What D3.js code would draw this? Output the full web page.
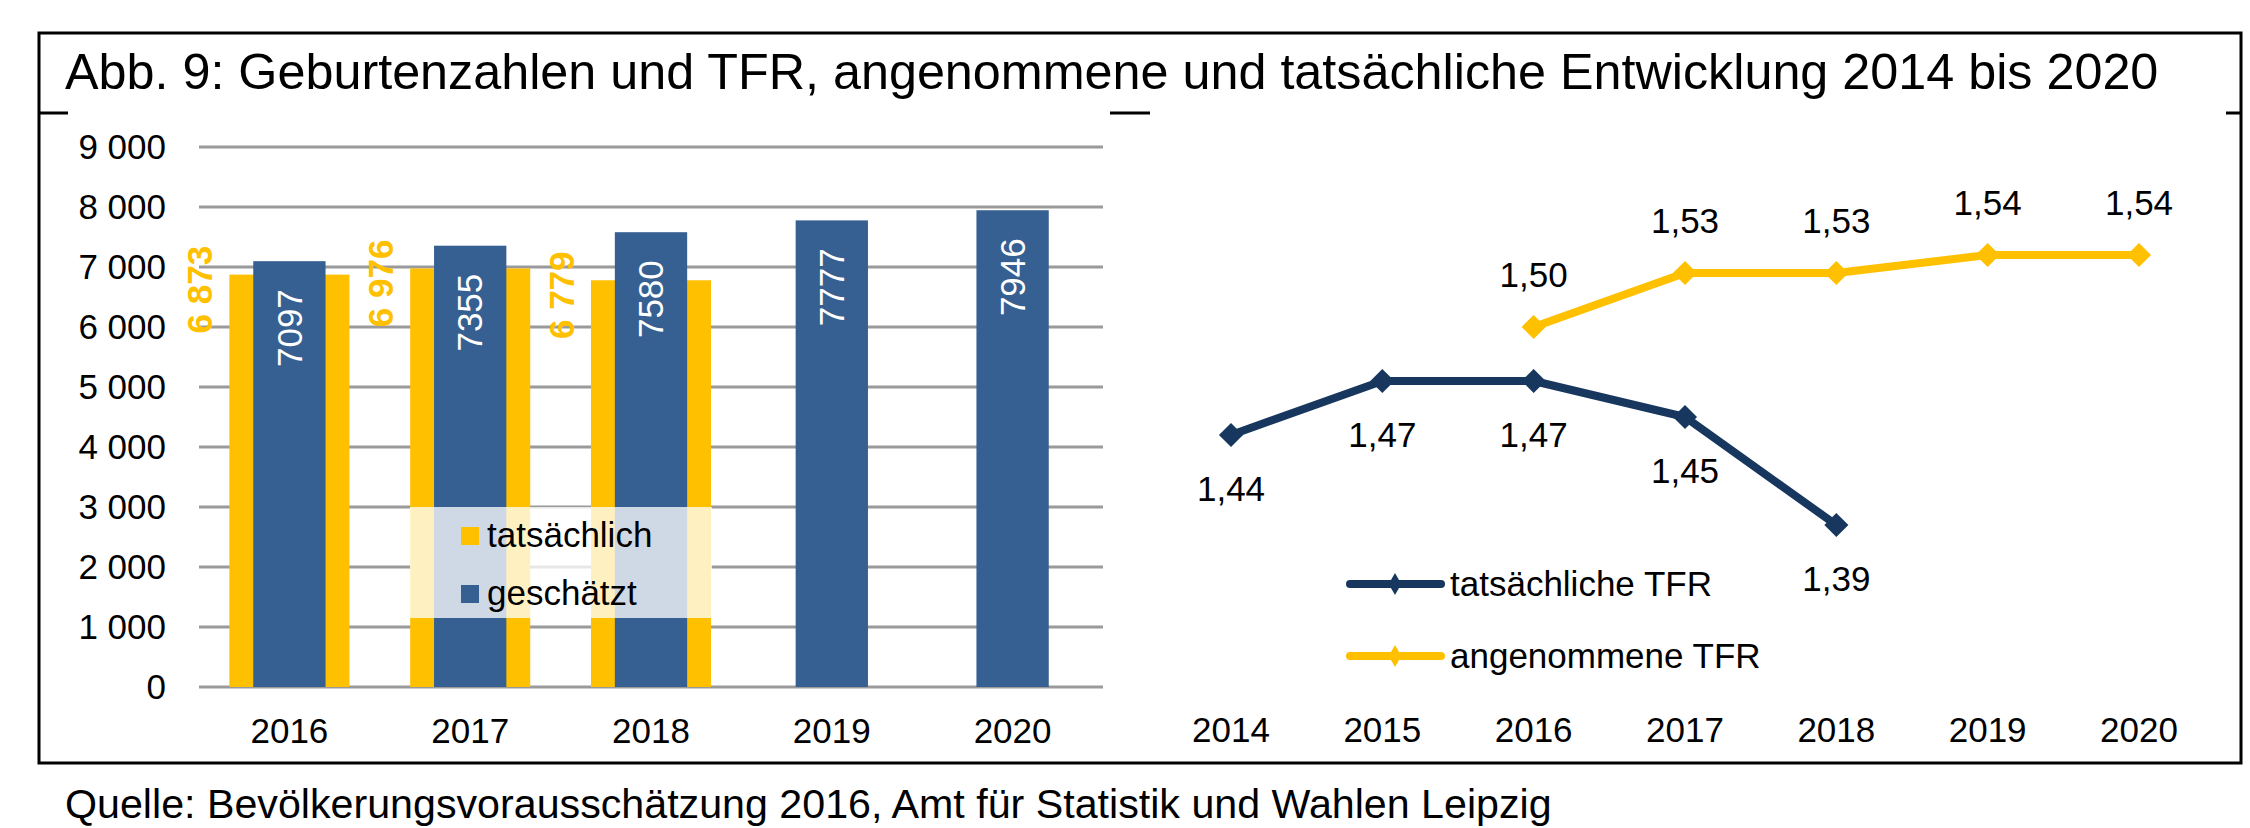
<!DOCTYPE html>
<html>
<head>
<meta charset="utf-8">
<script src="https://cdn.jsdelivr.net/npm/d3@7"></script>
<style>
  body { margin: 0; background: #fff; }
  svg { display: block; font-family: "Liberation Sans", Arial, sans-serif; }
</style>
</head>
<body>
<svg id="svg" width="2250" height="828"></svg>
<script>
// --- DATA ---
const barYears = ["2016", "2017", "2018", "2019", "2020"];
const actualBirths = [6873, 6976, 6779];            // tatsächlich (2016-2018)
const estimatedBirths = [7097, 7355, 7580, 7777, 7946]; // geschätzt
const birthTicks = [0, 1000, 2000, 3000, 4000, 5000, 6000, 7000, 8000, 9000];

const tfrYears = ["2014", "2015", "2016", "2017", "2018", "2019", "2020"];
const actualTfr = [1.44, 1.47, 1.47, 1.45, 1.39];       // 2014-2018
const assumedTfr = [null, null, 1.50, 1.53, 1.53, 1.54, 1.54];

const TITLE = "Abb. 9: Geburtenzahlen und TFR, angenommene und tatsächliche Entwicklung 2014 bis 2020";
const SOURCE = "Quelle: Bevölkerungsvorausschätzung 2016, Amt für Statistik und Wahlen Leipzig";

// --- CONFIGURATION ---
const YELLOW = "#FFC000";
const BLUE = "#376092";
const NAVY = "#17375E";
const GRID = "#9a9a9a";
const FS = 35;
const PLOT_TOP = 147, PLOT_BOTTOM = 687;

const svg = d3.select("#svg");
const de = d3.formatLocale({ decimal: ",", thousands: " ", grouping: [3], currency: ["", " €"] });
const fmtInt = de.format(",d");
const fmtTfr = de.format(".2f");

// --- FRAME + TITLE ---
svg.append("rect")
  .attr("x", 39).attr("y", 33).attr("width", 2202).attr("height", 730)
  .attr("fill", "none").attr("stroke", "#000").attr("stroke-width", 3);

[[39, 68], [1110, 1150], [2226, 2241]].forEach(([a, b]) => {
  svg.append("line").attr("x1", a).attr("x2", b).attr("y1", 113).attr("y2", 113)
    .attr("stroke", "#000").attr("stroke-width", 3);
});

svg.append("text").attr("x", 65).attr("y", 89)
  .style("font-size", "50.3px").text(TITLE);

svg.append("text").attr("x", 65).attr("y", 818)
  .style("font-size", "41.2px").text(SOURCE);

// --- LEFT: BAR CHART ---
const x = d3.scaleBand().domain(barYears).range([199, 1103]).padding(0);
const y = d3.scaleLinear().domain([0, 9000]).range([PLOT_BOTTOM, PLOT_TOP]);

const left = svg.append("g");

left.append("g").selectAll("line").data(birthTicks).join("line")
  .attr("x1", 199).attr("x2", 1103)
  .attr("y1", d => y(d)).attr("y2", d => y(d))
  .attr("stroke", GRID).attr("stroke-width", 3);

left.append("g").selectAll("text").data(birthTicks).join("text")
  .attr("x", 166).attr("y", d => y(d)).attr("dy", "0.35em")
  .attr("text-anchor", "end").style("font-size", FS + "px")
  .text(d => fmtInt(d));

left.append("g").selectAll("text").data(barYears).join("text")
  .attr("x", d => x(d) + x.bandwidth() / 2).attr("y", 743)
  .attr("text-anchor", "middle").style("font-size", FS + "px")
  .text(d => d);

const cx = d => x(d) + x.bandwidth() / 2;
const wideW = x.bandwidth() * 0.664;
const narrowW = x.bandwidth() * 0.4;

const actualData = actualBirths.map((v, i) => ({ year: barYears[i], v }));
const estData = estimatedBirths.map((v, i) => ({ year: barYears[i], v }));

left.append("g").selectAll("rect").data(actualData).join("rect")
  .attr("x", d => cx(d.year) - wideW / 2).attr("width", wideW)
  .attr("y", d => y(d.v)).attr("height", d => y(0) - y(d.v))
  .attr("fill", YELLOW);

left.append("g").selectAll("rect").data(estData).join("rect")
  .attr("x", d => cx(d.year) - narrowW / 2).attr("width", narrowW)
  .attr("y", d => y(d.v)).attr("height", d => y(0) - y(d.v))
  .attr("fill", BLUE);

// value labels, rotated
left.append("g").selectAll("text").data(actualData).join("text")
  .attr("transform", d => `translate(${cx(d.year) - 89.5},${y(d.v) + 15}) rotate(-90)`)
  .attr("dy", "0.35em").attr("text-anchor", "middle")
  .attr("fill", YELLOW).style("font-size", FS + "px").style("font-weight", "bold")
  .text(d => fmtInt(d.v));

left.append("g").selectAll("text").data(estData).join("text")
  .attr("transform", d => `translate(${cx(d.year)},${y(d.v) + 28}) rotate(-90)`)
  .attr("dy", "0.35em").attr("text-anchor", "end")
  .attr("fill", "#fff").style("font-size", FS + "px")
  .text(d => d.v);

// legend
const lg = left.append("g");
lg.append("rect").attr("x", 410).attr("y", 507).attr("width", 302).attr("height", 111)
  .attr("fill", "#fff").attr("fill-opacity", 0.76);
[["tatsächlich", YELLOW, 536], ["geschätzt", BLUE, 594]].forEach(([label, col, cy]) => {
  lg.append("rect").attr("x", 461).attr("y", cy - 9).attr("width", 18).attr("height", 18).attr("fill", col);
  lg.append("text").attr("x", 487).attr("y", cy + 11).style("font-size", FS + "px").text(label);
});

// --- RIGHT: TFR LINES ---
const xp = d3.scalePoint().domain(tfrYears).range([1231, 2139]);
const yp = d3.scaleLinear().domain([1.3, 1.6]).range([PLOT_BOTTOM, PLOT_TOP]);

const right = svg.append("g");

right.append("g").selectAll("text").data(tfrYears).join("text")
  .attr("x", d => xp(d)).attr("y", 742)
  .attr("text-anchor", "middle").style("font-size", FS + "px")
  .text(d => d);

const actualPts = actualTfr.map((v, i) => ({ year: tfrYears[i], v }));
const assumedPts = assumedTfr.map((v, i) => ({ year: tfrYears[i], v })).filter(d => d.v != null);

const line = d3.line().x(d => xp(d.year)).y(d => yp(d.v));
const marker = d3.symbol(d3.symbolSquare, 290);

function drawSeries(pts, color, labelDy) {
  const g = right.append("g");
  g.append("path").datum(pts).attr("d", line)
    .attr("fill", "none").attr("stroke", color).attr("stroke-width", 8)
    .attr("stroke-linejoin", "round");
  g.selectAll("path.m").data(pts).join("path").attr("class", "m")
    .attr("d", marker)
    .attr("transform", d => `translate(${xp(d.year)},${yp(d.v)}) rotate(45)`)
    .attr("fill", color);
  g.selectAll("text").data(pts).join("text")
    .attr("x", d => xp(d.year)).attr("y", d => yp(d.v) + labelDy)
    .attr("text-anchor", "middle").style("font-size", FS + "px")
    .text(d => fmtTfr(d.v));
}

drawSeries(actualPts, NAVY, 66);
drawSeries(assumedPts, YELLOW, -40);

// legend
const legMarker = d3.symbol(d3.symbolDiamond, 140);
[["tatsächliche TFR", NAVY, 584], ["angenommene TFR", YELLOW, 656]].forEach(([label, col, ly]) => {
  right.append("line").attr("x1", 1350).attr("x2", 1441).attr("y1", ly).attr("y2", ly)
    .attr("stroke", col).attr("stroke-width", 8).attr("stroke-linecap", "round");
  right.append("path").attr("d", legMarker).attr("transform", `translate(1395,${ly})`).attr("fill", col);
  right.append("text").attr("x", 1450).attr("y", ly + 12).style("font-size", FS + "px").text(label);
});
</script>
</body>
</html>
